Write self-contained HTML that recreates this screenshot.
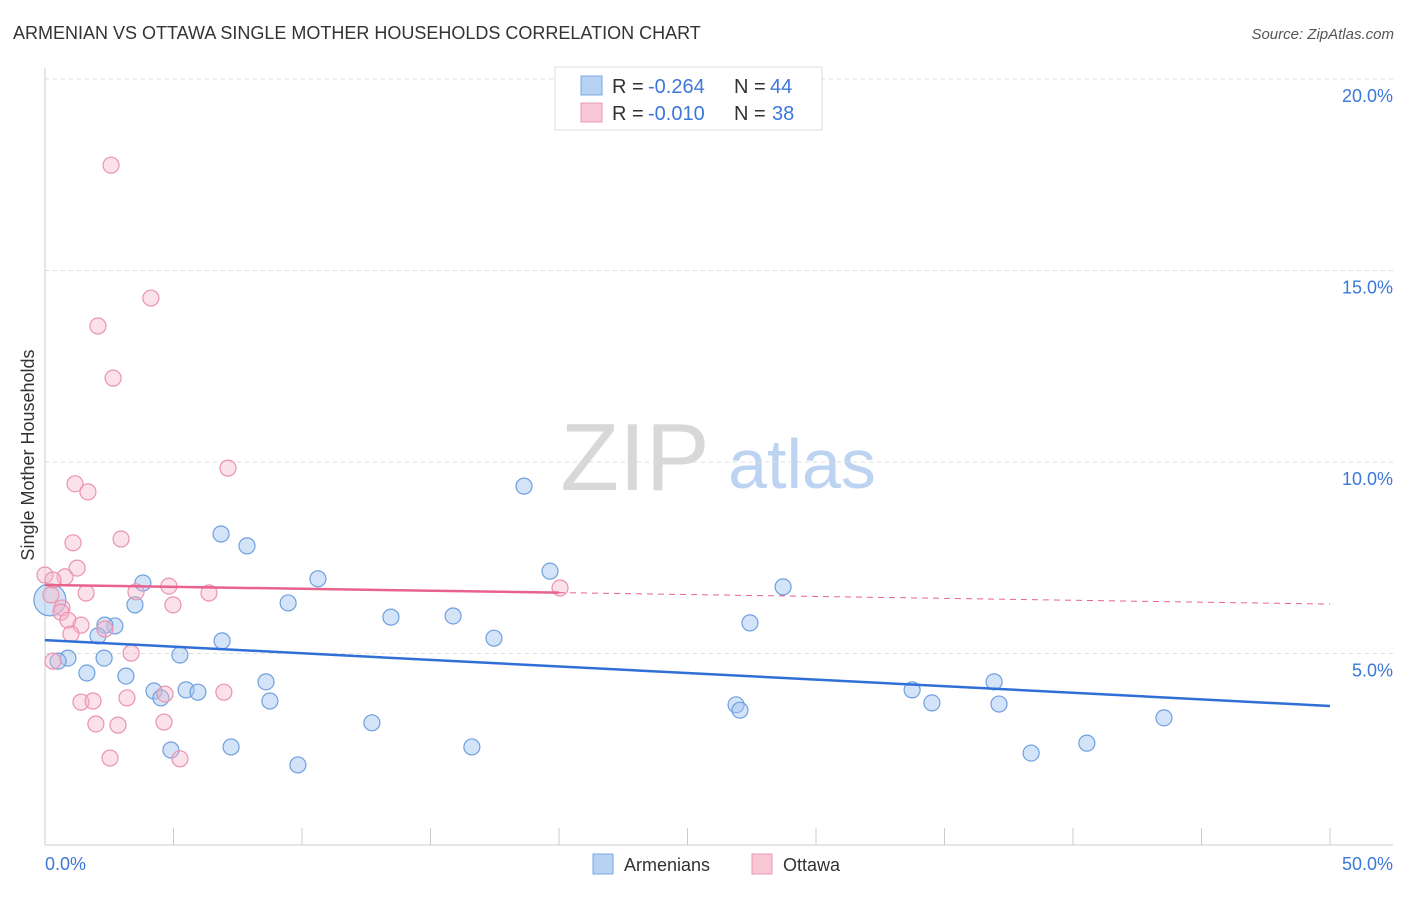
<!DOCTYPE html>
<html><head><meta charset="utf-8"><style>
body{margin:0;background:#fff;font-family:"Liberation Sans",sans-serif;}
svg text{font-family:"Liberation Sans",sans-serif;}
</style></head><body>
<svg width="1406" height="892">
<text x="13" y="39" font-size="18" fill="#333">ARMENIAN VS OTTAWA SINGLE MOTHER HOUSEHOLDS CORRELATION CHART</text>
<text x="1394" y="39" font-size="15" fill="#555" font-style="italic" text-anchor="end">Source: ZipAtlas.com</text>
<g>
<text x="635" y="490" font-size="96" fill="#d8d8d8" text-anchor="middle" font-family="Liberation Serif">ZIP</text>
<text x="802" y="488" font-size="70" fill="#bcd3f1" text-anchor="middle">atlas</text>
</g>
<g id="grid"></g>
<g id="axes"></g>
<g id="marks"></g>
<text transform="translate(34,455) rotate(-90)" font-size="18" fill="#333" text-anchor="middle">Single Mother Households</text>
<text x="45" y="870" font-size="18" fill="#3b78d8">0.0%</text>
<text x="1393" y="870" font-size="18" fill="#3b78d8" text-anchor="end">50.0%</text>
<g>
<rect x="555" y="67" width="267" height="63" fill="#fff" stroke="#ddd"/>
<rect x="581" y="76" width="21" height="19" fill="#b8d2f3" stroke="#7aa7e3"/>
<rect x="581" y="103" width="21" height="19" fill="#f8c7d6" stroke="#ea9ab4"/>
<text x="612" y="93" font-size="20" fill="#333">R = </text>
<text x="648" y="93" font-size="20" fill="#3b78d8">-0.264</text>
<text x="734" y="93" font-size="20" fill="#333">N =</text>
<text x="770" y="93" font-size="20" fill="#3b78d8">44</text>
<text x="612" y="120" font-size="20" fill="#333">R = </text>
<text x="648" y="120" font-size="20" fill="#3b78d8">-0.010</text>
<text x="734" y="120" font-size="20" fill="#333">N =</text>
<text x="772" y="120" font-size="20" fill="#3b78d8">38</text>
</g>
<g>
<rect x="593" y="854" width="20" height="20" fill="#b8d2f3" stroke="#7aa7e3"/>
<text x="624" y="871" font-size="18" fill="#333">Armenians</text>
<rect x="752" y="854" width="20" height="20" fill="#f8c7d6" stroke="#ea9ab4"/>
<text x="783" y="871" font-size="18" fill="#333">Ottawa</text>
</g>
</svg>
<script>
const yTicks=[5,10,15,20];
const yTickLabels=["5.0%","10.0%","15.0%","20.0%"];
const armX=[18.64,6.85,7.86,3.81,10.62,19.65,28.72,3.50,9.46,13.46,15.88,2.72,2.33,2.06,6.89,17.47,27.43,5.25,0.89,0.51,2.30,1.63,3.15,8.60,4.24,4.51,5.49,5.95,8.75,33.74,36.93,26.89,27.04,34.51,37.12,12.72,43.54,4.90,7.24,16.61,40.54,38.37,9.84,0.19];
const armY=[9.37,8.12,7.81,6.84,6.95,7.15,6.74,6.27,6.32,5.95,5.98,5.72,5.74,5.46,5.33,5.40,5.80,4.96,4.88,4.80,4.88,4.49,4.41,4.26,4.02,3.84,4.05,3.99,3.76,4.05,4.26,3.66,3.52,3.71,3.68,3.19,3.32,2.48,2.56,2.56,2.66,2.40,2.09,6.40];
const ottX=[2.57,4.12,2.06,2.65,7.12,1.17,1.67,2.96,1.09,1.25,0.78,0.0,0.31,1.60,0.23,4.82,3.54,6.38,20.04,0.66,0.62,4.98,0.89,1.40,2.33,1.01,3.35,1.40,1.87,3.19,6.96,4.67,1.98,2.84,4.63,2.53,5.25,0.31];
const ottY=[17.75,14.28,13.55,12.19,9.84,9.43,9.22,7.99,7.89,7.23,7.00,7.05,6.92,6.58,6.53,6.76,6.61,6.58,6.71,6.19,6.08,6.27,5.87,5.74,5.64,5.51,5.01,3.73,3.76,3.84,3.99,3.94,3.16,3.13,3.21,2.27,2.25,4.80];
const armTrend=[5.35,3.63];
const ottTrend=[6.79,6.29];
const ottSolidEnd=20;
const NS="http://www.w3.org/2000/svg";
const sx=v=>45+v*25.7, sy=v=>845-v*38.3;
function mk(tag,attrs,parent){const e=document.createElementNS(NS,tag);for(const k in attrs)e.setAttribute(k,attrs[k]);parent.appendChild(e);return e;}
const grid=document.getElementById('grid'),axes=document.getElementById('axes'),marks=document.getElementById('marks');
yTicks.forEach((t,i)=>{
 const l=mk('line',{x1:45,x2:1393,y1:sy(t),y2:sy(t),stroke:'#ddd','stroke-dasharray':'4,4'},grid);
 
 
 const tx=mk('text',{x:1393,y:sy(t)+23,'font-size':18,fill:'#3b78d8','text-anchor':'end'},axes);
 tx.textContent=yTickLabels[i];
 
 
});
mk('line',{x1:45,x2:45,y1:68,y2:845,stroke:'#ccc'},axes);
mk('line',{x1:45,x2:1393,y1:845,y2:845,stroke:'#ccc'},axes);
for(let i=0;i<=10;i++){const t=mk('line',{x1:sx(i*5),x2:sx(i*5),y1:828,y2:845,stroke:'#ccc'},axes);
 
 }
armX.forEach((x,i)=>{const big=i===armX.length-1;
 const c=mk('circle',{cx:sx(x),cy:sy(armY[i]),r:big?16:8,fill:'rgba(160,196,240,0.45)',stroke:'#6f9fe0','stroke-width':1.2},marks);
 
 });
ottX.forEach((x,i)=>{
 const c=mk('circle',{cx:sx(x),cy:sy(ottY[i]),r:8,fill:'rgba(246,180,200,0.4)',stroke:'#eb93b0','stroke-width':1.2},marks);
 
 });
const at=mk('line',{x1:sx(0),y1:sy(armTrend[0]),x2:sx(50),y2:sy(armTrend[1]),stroke:'#2f6fd6','stroke-width':2.5},marks);


const oy=v=>ottTrend[0]+(ottTrend[1]-ottTrend[0])*v/50;
const ot=mk('line',{x1:sx(0),y1:sy(oy(0)),x2:sx(ottSolidEnd),y2:sy(oy(ottSolidEnd)),stroke:'#e8628e','stroke-width':2.5},marks);


const od=mk('line',{x1:sx(ottSolidEnd),y1:sy(oy(ottSolidEnd)),x2:sx(50),y2:sy(oy(50)),stroke:'#e8628e','stroke-width':1,'stroke-dasharray':'6,5'},marks);


</script>
</body></html>
